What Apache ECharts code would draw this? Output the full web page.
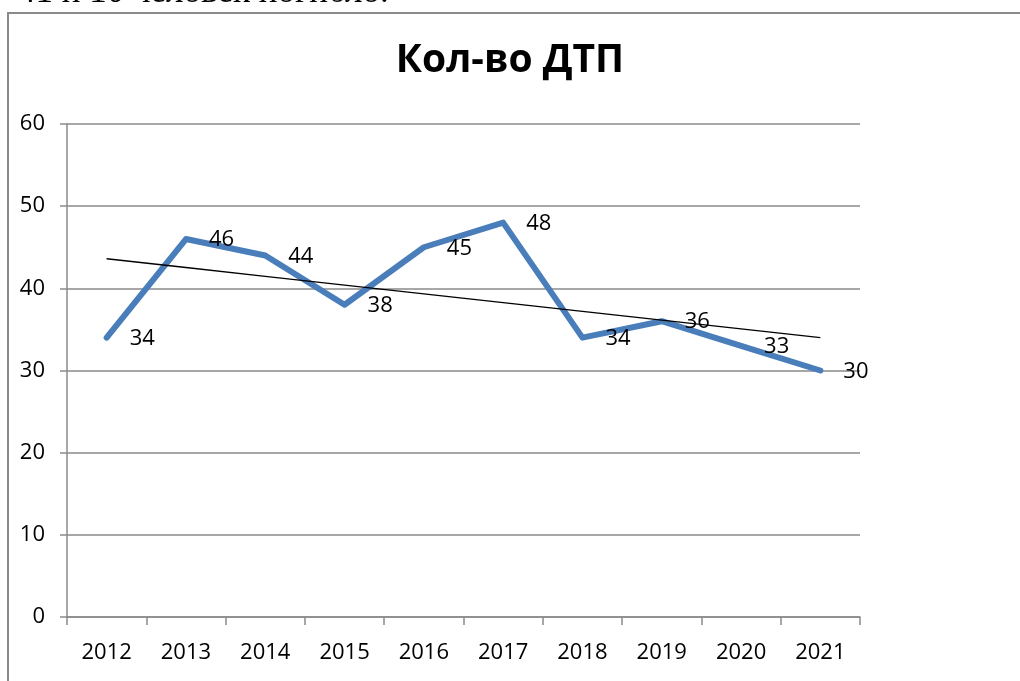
<!DOCTYPE html>
<html>
<head>
<meta charset="utf-8">
<style>
  html, body { margin: 0; padding: 0; background: #fff; }
  #main { width: 1020px; height: 681px; }
</style>
<script src="https://cdn.jsdelivr.net/npm/echarts@6/dist/echarts.min.js"></script>
</head>
<body>
<div id="main"></div>
<script>
// данные
var years = ['2012', '2013', '2014', '2015', '2016', '2017', '2018', '2019', '2020', '2021'];
var dtp = [34, 46, 44, 38, 45, 48, 34, 36, 33, 30];
var yTicks = [0, 10, 20, 30, 40, 50, 60];

// линейный тренд (МНК), как в Excel
var n = dtp.length, sx = 0, sy = 0, sxy = 0, sxx = 0;
for (var i = 0; i < n; i++) {
  sx += i; sy += dtp[i]; sxy += i * dtp[i]; sxx += i * i;
}
var k = (n * sxy - sx * sy) / (n * sxx - sx * sx);
var b = (sy - k * sx) / n;
var trend = [];
for (i = 0; i < n; i++) trend.push(+(k * i + b).toFixed(3));

var font = '"Open Sans", Lato, sans-serif';
var chart = echarts.init(document.getElementById('main'));

chart.setOption({
  animation: false,
  backgroundColor: '#fff',
  title: {
    text: 'Кол-во ДТП',
    left: 'center',
    top: 36,
    textStyle: { fontFamily: font, fontSize: 39, fontWeight: 'bold', color: '#000' }
  },
  graphic: [
    { // рамка диаграммы
      type: 'rect',
      shape: { x: 8, y: 13, width: 1100, height: 1000 },
      style: { fill: 'none', stroke: '#8a8a8a', lineWidth: 2 }
    },
    { // обрезанная строка текста над диаграммой
      type: 'text',
      x: 18, y: 10,
      style: {
        text: '41 и 10 человек погибло.',
        font: '35px "Liberation Serif", serif',
        fill: '#000',
        verticalAlign: 'bottom'
      }
    }
  ],
  grid: { left: 67, right: 160, top: 124, bottom: 64 },
  xAxis: {
    type: 'category',
    data: years,
    boundaryGap: true,
    axisLine: { lineStyle: { color: '#8a8a8a', width: 1.5 } },
    axisTick: { show: true, length: 8, lineStyle: { color: '#8a8a8a', width: 1.5 } },
    axisLabel: { margin: 25, color: '#000', fontFamily: font, fontSize: 22 }
  },
  yAxis: {
    type: 'value',
    min: yTicks[0],
    max: yTicks[yTicks.length - 1],
    interval: 10,
    axisLine: { show: true, lineStyle: { color: '#8a8a8a', width: 1.5 } },
    axisTick: { show: true, length: 7, lineStyle: { color: '#8a8a8a', width: 1.5 } },
    axisLabel: { margin: 22, color: '#000', fontFamily: font, fontSize: 22 },
    splitLine: { lineStyle: { color: '#8a8a8a', width: 1.5 } }
  },
  series: [
    {
      name: 'ДТП',
      type: 'line',
      data: dtp,
      symbol: 'circle',
      symbolSize: 2,
      showSymbol: true,
      itemStyle: { color: '#4a7ebb' },
      lineStyle: { color: '#4a7ebb', width: 6, cap: 'round', join: 'round' },
      label: {
        show: true,
        position: 'right',
        distance: 22,
        offset: [0, 1],
        color: '#000',
        fontFamily: font,
        fontSize: 22
      },
      z: 3
    },
    {
      name: 'Тренд',
      type: 'line',
      data: trend,
      symbol: 'none',
      lineStyle: { color: '#000', width: 1.3 },
      z: 4
    }
  ]
});
</script>
</body>
</html>
